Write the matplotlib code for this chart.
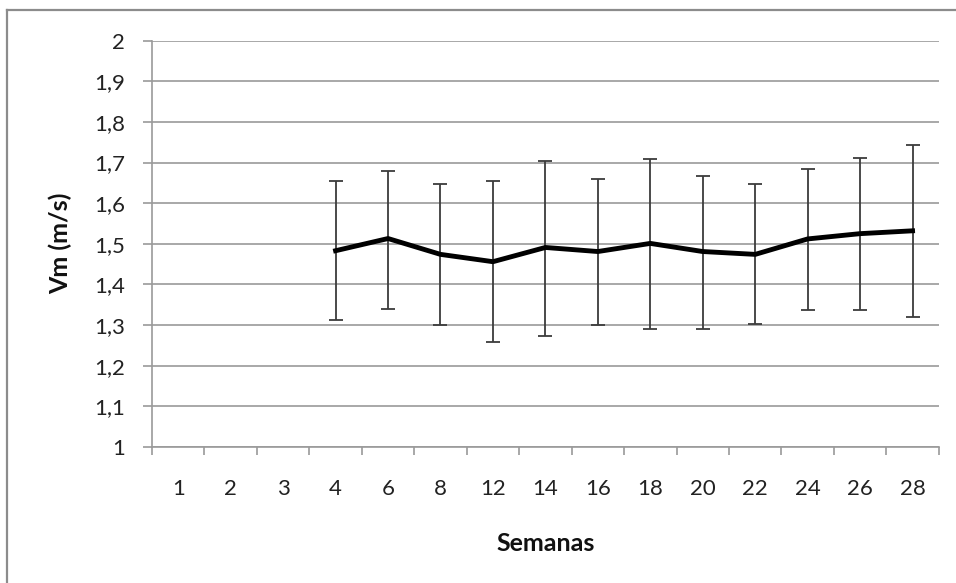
import numpy as np
import matplotlib
matplotlib.use("Agg")
import matplotlib.pyplot as plt
from matplotlib.lines import Line2D

plt.rcParams['font.family'] = ['Lato', 'DejaVu Sans']

semanas = ['1', '2', '3', '4', '6', '8', '12', '14', '16', '18', '20', '22', '24', '26', '28']
vm = [np.nan, np.nan, np.nan, 1.483, 1.513, 1.474, 1.456, 1.491, 1.481,
      1.501, 1.481, 1.474, 1.512, 1.525, 1.532]
vm_low = [np.nan, np.nan, np.nan, 1.312, 1.340, 1.300, 1.258, 1.274, 1.300,
          1.290, 1.290, 1.303, 1.337, 1.337, 1.319]
vm_high = [np.nan, np.nan, np.nan, 1.654, 1.680, 1.648, 1.654, 1.705, 1.660,
           1.708, 1.667, 1.648, 1.684, 1.711, 1.743]

vm = np.array(vm)
vm_low = np.array(vm_low)
vm_high = np.array(vm_high)
x = np.arange(len(semanas))

fig = plt.figure(figsize=(9.56, 5.83), dpi=100)
ax = fig.add_axes([0.159, 0.2333, 0.823, 0.697])

grid_c = '#9a9a9a'
ax.errorbar(x, vm, yerr=[vm - vm_low, vm_high - vm], fmt='none',
            ecolor='#3c3c3c', elinewidth=1.3, capsize=4.7, capthick=1.3, zorder=3)
ax.plot(x, vm, color='black', lw=3.5, solid_joinstyle='round', zorder=4)

ax.set_xlim(-0.5, len(semanas) - 0.5)
ax.set_ylim(1, 2)
yt = np.arange(1, 2.01, 0.1)
ax.set_yticks(yt)
ax.set_yticklabels([('%.1f' % v).replace('.', ',').replace(',0', '') for v in yt])
ax.yaxis.grid(True, color=grid_c, lw=1.2)
ax.set_axisbelow(True)

ax.set_xticks(x)
ax.set_xticklabels(semanas)
ax.set_xticks(np.arange(-0.5, len(semanas)), minor=True)
ax.tick_params(axis='x', which='major', length=0, pad=23, labelsize=16, colors='#222222')
ax.tick_params(axis='x', which='minor', length=6, width=1.2, color=grid_c)
ax.tick_params(axis='y', length=6.5, width=1.2, color=grid_c, pad=13, labelsize=16,
               labelcolor='#222222')

for s in ['top', 'right']:
    ax.spines[s].set_visible(False)
for s in ['left', 'bottom']:
    ax.spines[s].set_color(grid_c)
    ax.spines[s].set_linewidth(1.2)

ax.set_xlabel('Semanas', fontsize=18, fontweight='bold', color='#111111')
ax.xaxis.set_label_coords(0.5, -0.209)
ax.set_ylabel('Vm (m/s)', fontsize=18, fontweight='bold', color='#111111')
ax.yaxis.set_label_coords(-0.102, 0.5)

# outer chart frame (top and left edges)
fig.add_artist(Line2D([0.0073, 1.0], [0.983, 0.983], transform=fig.transFigure,
                      color='#8c8c8c', lw=1.6))
fig.add_artist(Line2D([0.0073, 0.0073], [0.0, 0.983], transform=fig.transFigure,
                      color='#8c8c8c', lw=1.6))

fig.savefig('out.png', dpi=100)
